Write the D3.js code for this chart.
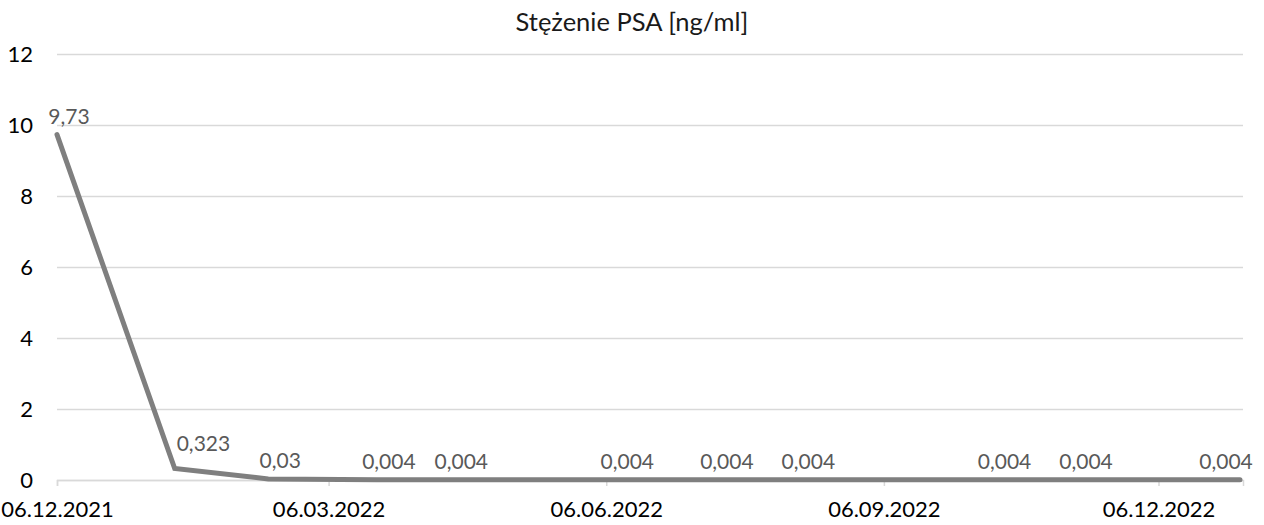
<!DOCTYPE html>
<html>
<head>
<meta charset="utf-8">
<script src="https://cdn.jsdelivr.net/npm/d3@7"></script>
<style>
  body { margin: 0; background: #fff; }
  text { font-family: Lato, 'Open Sans', sans-serif; }
</style>
</head>
<body>
<div id="chart"></div>
<script>
const width = 1264;
const height = 525;

// Data
const dates = ['2021-12-06', '2022-01-14', '2022-02-14', '2022-03-22', '2022-04-15',
  '2022-06-09', '2022-07-12', '2022-08-08', '2022-10-12', '2022-11-08', '2023-01-02'];
const values = [9.73, 0.323, 0.03, 0.004, 0.004, 0.004, 0.004, 0.004, 0.004, 0.004, 0.004];
const valueLabels = ['9,73', '0,323', '0,03', '0,004', '0,004', '0,004', '0,004', '0,004', '0,004', '0,004', '0,004'];
const xTicks = ['2021-12-06', '2022-03-06', '2022-06-06', '2022-09-06', '2022-12-06'];
const yTicks = [0, 2, 4, 6, 8, 10, 12];
const title = 'Stężenie PSA [ng/ml]';

const parse = d3.timeParse('%Y-%m-%d');
const data = dates.map((d, i) => ({ date: parse(d), value: values[i], label: valueLabels[i] }));

const svg = d3.select('#chart').append('svg')
  .attr('width', width)
  .attr('height', height);

const x = d3.scaleTime()
  .domain([parse('2021-12-06'), parse('2023-01-03')])
  .range([57, 1243]);

const y = d3.scaleLinear()
  .domain([0, 12])
  .range([480, 54]);

// Title
svg.append('text')
  .attr('x', 632)
  .attr('y', 31)
  .attr('text-anchor', 'middle')
  .attr('font-size', 25.5)
  .style('fill', '#1a1a1a')
  .text(title);

// Y axis with gridlines
const yAxis = svg.append('g')
  .attr('transform', 'translate(57,0)')
  .call(d3.axisLeft(y).tickValues(yTicks).tickSize(-(1243 - 57)).tickPadding(24));
yAxis.select('.domain').remove();
yAxis.selectAll('line').attr('stroke', '#d9d9d9').attr('stroke-width', 1.5);
yAxis.selectAll('text').attr('font-size', 22).style('fill', '#000');

// X axis
const xAxis = svg.append('g')
  .attr('transform', 'translate(0,480)')
  .call(d3.axisBottom(x)
    .tickValues(xTicks.map(parse))
    .tickFormat(d3.timeFormat('%d.%m.%Y'))
    .tickSize(6)
    .tickPadding(15));
xAxis.select('.domain').attr('stroke', '#d9d9d9').attr('stroke-width', 1.5);
xAxis.selectAll('line').attr('stroke', '#d9d9d9').attr('stroke-width', 1.5);
xAxis.selectAll('text').attr('font-size', 22).style('fill', '#000');

// Line
const line = d3.line()
  .x(d => x(d.date))
  .y(d => y(d.value));

svg.append('path')
  .datum(data)
  .attr('d', line)
  .attr('fill', 'none')
  .attr('stroke', '#7f7f7f')
  .attr('stroke-width', 5)
  .attr('stroke-linecap', 'round')
  .attr('stroke-linejoin', 'miter');

// Data labels: above the point, moved right where the incoming segment is steep
function steep(d, i) {
  if (i === 0) return false;
  const p = data[i - 1];
  return Math.abs(y(d.value) - y(p.value)) > Math.abs(x(d.date) - x(p.date));
}

svg.selectAll('.label')
  .data(data)
  .enter()
  .append('text')
  .classed('label', true)
  .attr('x', (d, i) => steep(d, i) ? x(d.date) + 2 : Math.min(x(d.date) + 12, width - 38))
  .attr('y', (d, i) => y(d.value) - (steep(d, i) ? 18 : 11))
  .attr('text-anchor', (d, i) => steep(d, i) ? 'start' : 'middle')
  .attr('font-size', 21)
  .style('fill', '#595959')
  .text(d => d.label);
</script>
</body>
</html>
